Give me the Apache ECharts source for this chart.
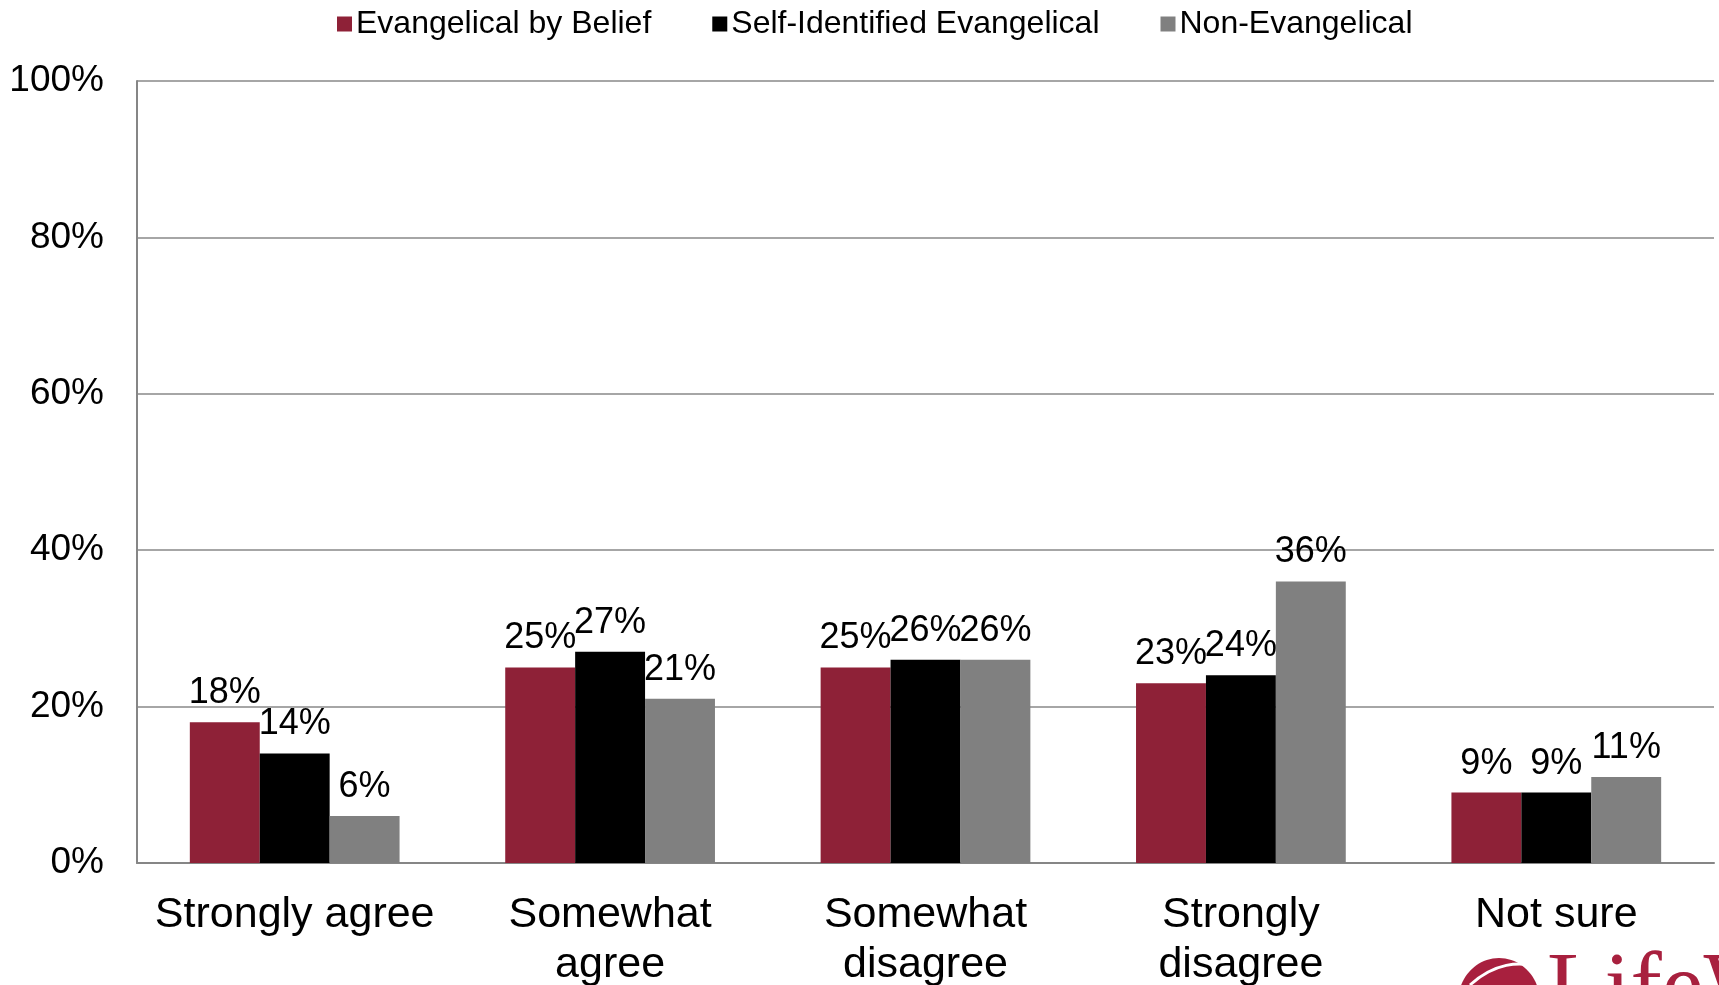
<!DOCTYPE html>
<html>
<head>
<meta charset="utf-8">
<script src="https://cdn.jsdelivr.net/npm/echarts@6/dist/echarts.min.js"></script>
<style>
html,body{margin:0;padding:0;background:#fff;}
#chart{width:1719px;height:985px;}
</style>
</head>
<body>
<div id="chart"></div>
<script>
const categories = ['Strongly agree', 'Somewhat agree', 'Somewhat disagree', 'Strongly disagree', 'Not sure'];
const seriesNames = ['Evangelical by Belief', 'Self-Identified Evangelical', 'Non-Evangelical'];
const evangelicalByBelief = [18, 25, 25, 23, 9];
const selfIdentified = [14, 27, 26, 24, 9];
const nonEvangelical = [6, 21, 26, 36, 11];
const yTicks = [0, 20, 40, 60, 80, 100];
const colors = ['#8E2137', '#000000', '#808080'];

const FONT = '"Liberation Sans", Arial, sans-serif';
const chart = echarts.init(document.getElementById('chart'), null, {renderer: 'canvas'});

// wrap category labels that are wider than the available width (without trailing spaces)
const measureCtx = document.createElement('canvas').getContext('2d');
measureCtx.font = '43px ' + FONT;
function wrapLabel(v) {
  if (measureCtx.measureText(v).width <= 300) return v;
  const words = v.split(' ');
  const lines = [];
  let cur = '';
  words.forEach(w => {
    const t = cur ? cur + ' ' + w : w;
    if (cur && measureCtx.measureText(t).width > 300) { lines.push(cur); cur = w; }
    else cur = t;
  });
  if (cur) lines.push(cur);
  return lines.join('\n');
}

const values = [evangelicalByBelief, selfIdentified, nonEvangelical];
const series = seriesNames.map((name, i) => ({
  name: name,
  type: 'bar',
  data: values[i],
  barGap: '0%',
  barCategoryGap: '33.5%',
  itemStyle: {color: colors[i]},
  label: {
    show: true,
    position: 'top',
    distance: 11,
    formatter: p => p.value + '%',
    fontFamily: FONT,
    fontSize: 36,
    color: '#000'
  }
}));

chart.setOption({
  animation: false,
  backgroundColor: '#fff',
  color: colors,
  legend: {
    data: seriesNames,
    left: 332,
    top: 3,
    icon: 'rect',
    itemWidth: 15,
    itemHeight: 15,
    itemGap: 61,
    textStyle: {fontFamily: FONT, fontSize: 32, color: '#000', padding: [0, 0, 0, -1]}
  },
  grid: {left: 137, right: 5, top: 81, bottom: 122, containLabel: false, outerBoundsMode: 'none'},
  xAxis: {
    type: 'category',
    data: categories,
    axisLine: {lineStyle: {color: '#868686', width: 2}},
    axisTick: {show: false},
    axisLabel: {
      fontFamily: FONT,
      fontSize: 43,
      color: '#000',
      lineHeight: 50,
      margin: 27,
      interval: 0,
      formatter: wrapLabel
    }
  },
  yAxis: {
    type: 'value',
    min: yTicks[0],
    max: yTicks[yTicks.length - 1],
    interval: 20,
    axisLine: {show: true, lineStyle: {color: '#868686', width: 2}},
    axisTick: {show: false},
    splitLine: {lineStyle: {color: '#A6A6A6', width: 2}},
    axisLabel: {
      fontFamily: FONT,
      fontSize: 37,
      color: '#000',
      margin: 33,
      formatter: v => v + '%'
    }
  },
  series: series,
  graphic: [
    {
      type: 'ellipse',
      shape: {cx: 1499, cy: 1002, rx: 41, ry: 44},
      style: {fill: '#A8203E'}
    },
    {
      type: 'bezierCurve',
      shape: {x1: 1470, y1: 985, x2: 1535, y2: 966, cpx1: 1495, cpy1: 962, cpx2: 1520, cpy2: 962},
      style: {stroke: '#fff', lineWidth: 3, fill: null}
    },
    {
      type: 'text',
      left: 1547,
      top: 944,
      style: {
        text: 'LifeWay',
        fontFamily: '"Liberation Serif", "Times New Roman", serif',
        fontSize: 94,
        fill: '#A8203E'
      }
    }
  ]
});
</script>
</body>
</html>
